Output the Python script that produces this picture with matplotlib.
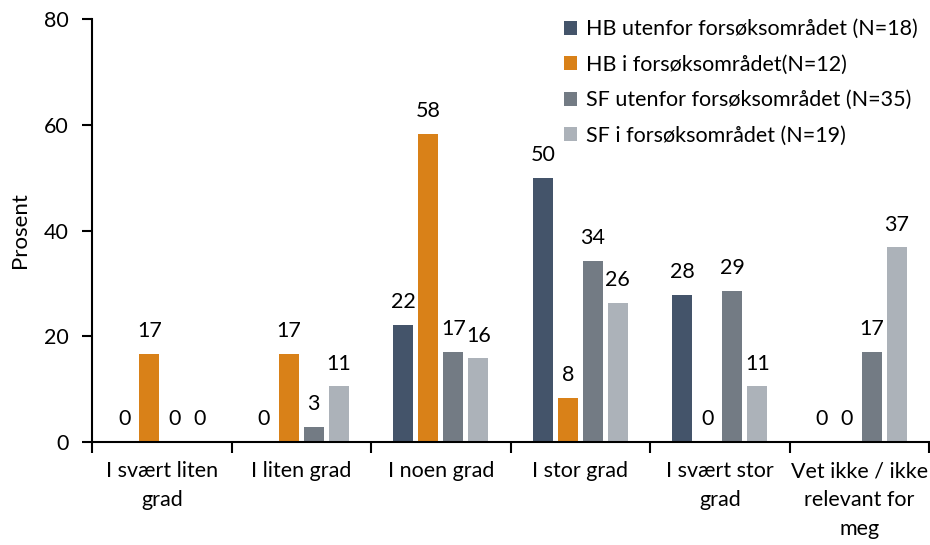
import matplotlib
matplotlib.use("Agg")
import matplotlib.pyplot as plt
import numpy as np

categories = ["I svært liten\ngrad", "I liten grad", "I noen grad", "I stor grad",
              "I svært stor\ngrad", "Vet ikke / ikke\nrelevant for\nmeg"]
series_names = ["HB utenfor forsøksområdet (N=18)", "HB i forsøksområdet(N=12)",
                "SF utenfor forsøksområdet (N=35)", "SF i forsøksområdet (N=19)"]
hb_utenfor = [0, 0, 22.2, 50.0, 27.8, 0]
hb_i = [16.7, 16.7, 58.3, 8.3, 0, 0]
sf_utenfor = [0, 2.9, 17.1, 34.3, 28.6, 17.1]
sf_i = [0, 10.53, 15.8, 26.3, 10.53, 36.8]
colors = ["#44546A", "#D98118", "#737B84", "#ACB2B9"]
yticks = [0, 20, 40, 60, 80]

FS = 15.5
plt.rcParams['font.family'] = ['Lato', 'DejaVu Sans']
fig = plt.figure(figsize=(9.3, 5.45), dpi=100)
ax = fig.add_axes([0.099, 0.189, 0.9, 0.776])

data = [hb_utenfor, hb_i, sf_utenfor, sf_i]
x = np.arange(len(categories))
step = 0.179
width = 0.143
for i, (vals, c, name) in enumerate(zip(data, colors, series_names)):
    pos = x + (i - 1.5) * step
    ax.bar(pos, vals, width=width, color=c, label=name, zorder=2)
    for p, v in zip(pos, vals):
        ax.annotate(f"{v:.0f}", (p, v), xytext=(0, 12), textcoords="offset points",
                    ha="center", va="baseline", fontsize=FS, color="#000000")

ax.set_xlim(-0.5, len(categories) - 0.5)
ax.set_ylim(0, 80)
ax.set_yticks(yticks)
ax.set_yticklabels([str(t) for t in yticks], fontsize=FS)
ax.set_ylabel("Prosent", fontsize=FS + 0.5, labelpad=10)

ax.set_xticks(np.arange(len(categories) + 1) - 0.5)
ax.set_xticklabels([])
ax.set_xticks(x, minor=True)
ax.set_xticklabels(categories, minor=True, fontsize=FS, linespacing=1.55)
ax.tick_params(axis='x', which='minor', length=0, pad=14)
ax.tick_params(axis='x', which='major', length=8, width=1.5, direction='out')
ax.tick_params(axis='y', length=7, width=1.5, direction='out', pad=10)
for s in ["top", "right"]:
    ax.spines[s].set_visible(False)
for s in ["left", "bottom"]:
    ax.spines[s].set_linewidth(1.5)

ax.legend(loc="upper right", bbox_to_anchor=(1.005, 1.035), frameon=False, fontsize=FS,
          handlelength=0.6, handleheight=0.6, handletextpad=0.45, labelspacing=0.72,
          borderaxespad=0.3)

fig.savefig("out.png", dpi=100)
